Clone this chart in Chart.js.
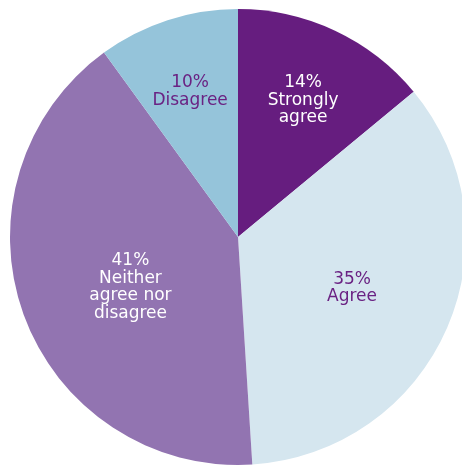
<!DOCTYPE html>
<html>
<head>
<meta charset="utf-8">
<script src="https://cdn.jsdelivr.net/npm/chart.js@4.4.1/dist/chart.umd.min.js"></script>
<style>
  html, body { margin: 0; padding: 0; background: #fff; overflow: hidden; }
  #wrap { position: relative; width: 476px; height: 474px; }
</style>
</head>
<body>
<div id="wrap"><canvas id="pie" width="476" height="474"></canvas></div>
<script>
'use strict';

const categories = ['Strongly agree', 'Agree', 'Neither agree nor disagree', 'Disagree'];
const shares = [14, 35, 41, 10];
const labelLines = [
  ['14%', 'Strongly', 'agree'],
  ['35%', 'Agree'],
  ['41%', 'Neither', 'agree nor', 'disagree'],
  ['10%', 'Disagree']
];
const sliceColors = ['#661d7f', '#d5e6ef', '#9274b1', '#95c4da'];
const textColors = ['#ffffff', '#6a2283', '#ffffff', '#6a2283'];
// label distance from the centre, as a share of the radius, plus a small nudge
const labelRadius = [0.67, 0.545, 0.52, 0.68];
const labelNudge = [[0, 0], [0, 0], [4, 8], [0, 0]];

const FONT_SIZE = 17;
const FONT = `${FONT_SIZE}px "DejaVu Sans", sans-serif`;
const LINE_H = 17.5;

const sliceLabels = {
  id: 'sliceLabels',
  afterDatasetsDraw(chart) {
    const { ctx } = chart;
    const meta = chart.getDatasetMeta(0);
    const capHalf = FONT_SIZE * 0.73 / 2;
    ctx.save();
    ctx.font = FONT;
    ctx.textAlign = 'center';
    ctx.textBaseline = 'alphabetic';
    meta.data.forEach((arc, i) => {
      const p = arc.getProps(['x', 'y', 'startAngle', 'endAngle', 'outerRadius']);
      const mid = (p.startAngle + p.endAngle) / 2;
      const r = p.outerRadius * labelRadius[i];
      const cx = p.x + Math.cos(mid) * r + labelNudge[i][0];
      const cy = p.y + Math.sin(mid) * r + labelNudge[i][1];
      const lines = labelLines[i];
      const top = cy - ((lines.length - 1) * LINE_H) / 2;
      ctx.fillStyle = textColors[i];
      lines.forEach((line, j) => ctx.fillText(line, cx, top + j * LINE_H + capHalf));
    });
    ctx.restore();
  }
};

new Chart(document.getElementById('pie'), {
  type: 'pie',
  data: {
    labels: categories,
    datasets: [{
      data: shares,
      backgroundColor: sliceColors,
      borderWidth: 0
    }]
  },
  options: {
    responsive: false,
    animation: false,
    layout: { padding: 9 },
    plugins: {
      legend: { display: false },
      tooltip: { enabled: false }
    }
  },
  plugins: [sliceLabels]
});
</script>
</body>
</html>
